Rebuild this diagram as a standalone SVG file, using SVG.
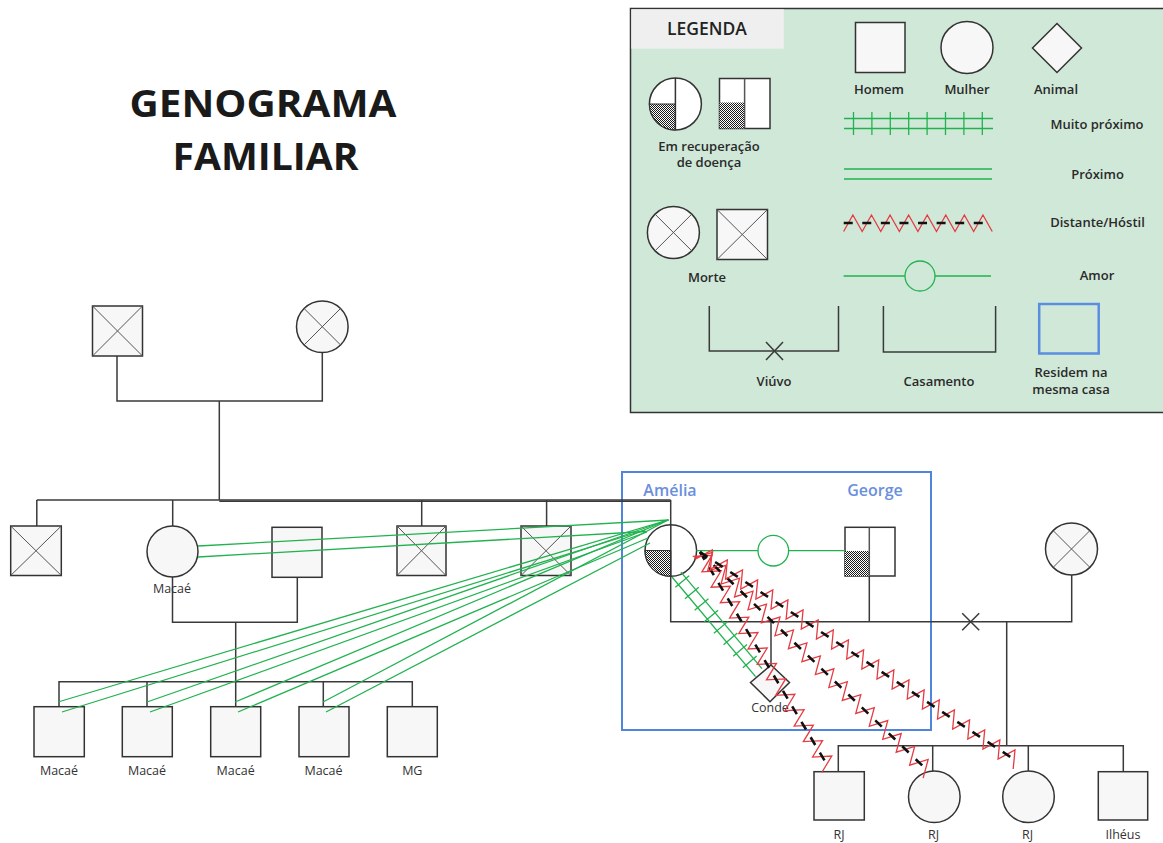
<svg xmlns="http://www.w3.org/2000/svg" width="1163" height="843" viewBox="0 0 1163 843">
  <style>
    .node { fill: #f7f7f7; stroke: #333; stroke-width: 1.5; }
    .cross { stroke: #555; stroke-width: 1; fill: none; }
    .link { stroke: #3a3a3a; stroke-width: 1.5; fill: none; }
    .green { stroke: #21b24f; stroke-width: 1.3; fill: none; }
    .zig { stroke: #e43c42; stroke-width: 1.3; fill: none; stroke-linejoin: miter; }
    .dash { stroke: #111; stroke-width: 2.6; fill: none; }
    .lbl { font-family: "Open Sans", "Liberation Sans", sans-serif; font-size: 12.5px; fill: #333; text-anchor: middle; }
    .leg { font-family: "Open Sans", "Liberation Sans", sans-serif; font-size: 13px; font-weight: 600; fill: #2a2a2a; text-anchor: middle; }
    .name { font-family: "Open Sans", "Liberation Sans", sans-serif; font-size: 16px; font-weight: 600; fill: #6a8fdc; text-anchor: middle; }
    .title { font-family: "Open Sans", "Liberation Sans", sans-serif; font-size: 38px; font-weight: 700; fill: #1a1a1a; text-anchor: middle; }
  </style>
  <defs>
    <pattern id="dots" width="2" height="2" patternUnits="userSpaceOnUse">
      <rect width="2" height="2" fill="#fff"/>
      <rect width="1" height="1" fill="#1a1a1a"/>
      <rect x="1" y="1" width="1" height="1" fill="#1a1a1a"/>
    </pattern>
  </defs>

  <rect width="1163" height="843" fill="#fff"/>

  <!-- title -->
  <g id="title">
    <text class="title" x="263" y="117" textLength="267" lengthAdjust="spacingAndGlyphs">GENOGRAMA</text>
    <text class="title" x="265.5" y="170" textLength="186" lengthAdjust="spacingAndGlyphs">FAMILIAR</text>
  </g>

  <!-- legend panel -->
  <g id="legend">
    <rect x="630.5" y="8.5" width="540" height="404" fill="#d0e8d8" stroke="#333" stroke-width="1.5"/>
    <rect x="631.3" y="9.3" width="152.5" height="39.4" fill="#efefef"/>
    <text x="707" y="35" style="font-family:'Open Sans','Liberation Sans',sans-serif;font-size:17.5px;font-weight:600;fill:#222;text-anchor:middle">LEGENDA</text>

    <rect class="node" x="855.5" y="22.5" width="49.5" height="50"/>
    <text class="leg" x="879" y="94">Homem</text>
    <circle class="node" cx="967" cy="47.5" r="26"/>
    <text class="leg" x="967" y="94">Mulher</text>
    <polygon class="node" points="1057,23.5 1081.5,48 1057,72.5 1032.5,48"/>
    <text class="leg" x="1056" y="94">Animal</text>

    <circle cx="675.4" cy="104" r="26" fill="#fff" stroke="#333" stroke-width="1.5"/>
    <path d="M675.4,104 L649.4,104 A26,26 0 0 0 675.4,130 Z" fill="url(#dots)" stroke="#333" stroke-width="1"/>
    <line x1="675.4" y1="78" x2="675.4" y2="130" stroke="#333" stroke-width="1.5"/>
    <rect x="719.5" y="78.5" width="50.5" height="50" fill="#fff" stroke="#333" stroke-width="1.5"/>
    <rect x="719.5" y="102.5" width="25" height="26" fill="url(#dots)"/>
    <line x1="744.6" y1="78.5" x2="744.6" y2="128.5" stroke="#555" stroke-width="1.5"/>
    <text class="leg" x="709" y="150.5">Em recuperação</text>
    <text class="leg" x="709" y="166.5">de doença</text>

    <g class="green" stroke-width="1.5">
      <line x1="844" y1="118.5" x2="993" y2="118.5"/>
      <line x1="844" y1="128.5" x2="993" y2="128.5"/>
      <path d="M853.5,112V135M871.9,112V135M890.3,112V135M908.7,112V135M927.1,112V135M945.5,112V135M963.9,112V135M982.3,112V135"/>
      <line x1="844" y1="169" x2="992" y2="169"/>
      <line x1="844" y1="179" x2="992" y2="179"/>
    </g>
    <text class="leg" x="1097" y="129">Muito próximo</text>
    <text class="leg" x="1097.5" y="179">Próximo</text>

    <circle class="node" cx="673.4" cy="232.5" r="26"/>
    <path class="cross" d="M655,214.1L691.8,250.9M691.8,214.1L655,250.9"/>
    <rect class="node" x="717" y="209.5" width="50.5" height="50"/>
    <path class="cross" d="M717,209.5L767.5,259.5M767.5,209.5L717,259.5"/>
    <text class="leg" x="707" y="281.5">Morte</text>

    <path class="zig" d="M843.6,231.5 l9.29,-16.5 l9.29,16.5 l9.29,-16.5 l9.29,16.5 l9.29,-16.5 l9.29,16.5 l9.29,-16.5 l9.29,16.5 l9.29,-16.5 l9.29,16.5 l9.29,-16.5 l9.29,16.5 l9.29,-16.5 l9.29,16.5 l9.29,-16.5 l9.29,16.5"/>
    <line class="dash" x1="843.7" y1="223" x2="990" y2="223" stroke-dasharray="9 9.58" stroke-width="2.2"/>
    <text class="leg" x="1097.5" y="227">Distante/Hóstil</text>

    <g class="green" stroke-width="1.5">
      <line x1="843.6" y1="276" x2="905" y2="276"/>
      <line x1="935" y1="276" x2="991" y2="276"/>
      <circle cx="920" cy="276" r="15"/>
    </g>
    <text class="leg" x="1097" y="280">Amor</text>

    <path class="link" d="M709.3,306V351H838.5V306"/>
    <path class="link" stroke-width="1" d="M766,342L783,360M783,342L766,360"/>
    <text class="leg" x="774" y="386">Viúvo</text>
    <path class="link" d="M883.4,306V352H995.6V306"/>
    <text class="leg" x="939" y="386">Casamento</text>
    <rect x="1039.2" y="304" width="59.5" height="49.5" fill="none" stroke="#5b8ee0" stroke-width="2.5"/>
    <text class="leg" x="1071" y="377">Residem na</text>
    <text class="leg" x="1071" y="394">mesma casa</text>
  </g>

  <!-- household frame -->
  <rect id="household" x="622" y="472" width="309" height="258" fill="none" stroke="#4f85dc" stroke-width="2"/>

  <!-- family connectors -->
  <g id="connectors">
    <path class="link" d="M117,356V401H322.3V352.5"/>
    <path class="link" d="M219.3,401V500"/>
    <path class="link" d="M36.8,500H670.7"/>
    <path class="link" stroke-width="1.2" d="M219.3,501.2H670.7"/>
    <path class="link" d="M36.8,500V526M172.7,500V526M421.7,500V526M546.6,500V526M670.7,500V525"/>
    <path class="link" d="M172.5,577V622.3H297.3V577.3"/>
    <path class="link" d="M235.7,622.3V681.7"/>
    <path class="link" d="M59,706.7V681.7H412.3V706.7M147,681.7V706.7M235.7,681.7V706.7M323.3,681.7V706.7"/>
    <path class="link" d="M670.7,576V621.7H1071.7V575"/>
    <path class="link" d="M869.3,576V621.7"/>
    <path class="link" d="M771,621.7V665"/>
    <path class="link" stroke-width="1" d="M962.2,613.2L979.2,630.2M979.2,613.2L962.2,630.2"/>
    <path class="link" d="M1006.7,621.7V745.7"/>
    <path class="link" d="M838.3,771.7V745.7H1123.3V771.7M932.7,745.7V771.7M1028.3,745.7V771.7"/>
  </g>

  <!-- people -->
  <g id="grandfather">
    <rect class="node" x="92.5" y="306" width="50" height="50"/>
    <path class="cross" d="M92.5,306L142.5,356M142.5,306L92.5,356"/>
  </g>
  <g id="grandmother">
    <circle class="node" cx="322.3" cy="326.7" r="25.8"/>
    <path class="cross" d="M304,308.4L340.6,345M340.6,308.4L304,345"/>
  </g>
  <g id="sibling1">
    <rect class="node" x="10.7" y="526" width="50.6" height="49.5"/>
    <path class="cross" d="M10.7,526L61.3,575.5M61.3,526L10.7,575.5"/>
  </g>
  <g id="sibling2">
    <circle class="node" cx="172.5" cy="551.5" r="25.5"/>
    <text class="lbl" x="172" y="593">Macaé</text>
  </g>
  <g id="sibling2-spouse">
    <rect class="node" x="272" y="527.3" width="50" height="50"/>
  </g>
  <g id="sibling3">
    <rect class="node" x="397" y="526" width="49" height="49.5"/>
    <path class="cross" d="M397,526L446,575.5M446,526L397,575.5"/>
  </g>
  <g id="sibling4">
    <rect class="node" x="521" y="526" width="50" height="49.5"/>
    <path class="cross" d="M521,526L571,575.5M571,526L521,575.5"/>
  </g>

  <g id="nephew1">
    <rect class="node" x="34" y="706.7" width="50.3" height="50"/>
    <text class="lbl" x="59" y="775">Macaé</text>
  </g>
  <g id="nephew2">
    <rect class="node" x="122.3" y="706.7" width="50" height="50"/>
    <text class="lbl" x="147" y="775">Macaé</text>
  </g>
  <g id="nephew3">
    <rect class="node" x="210.7" y="706.7" width="50" height="50"/>
    <text class="lbl" x="235.7" y="775">Macaé</text>
  </g>
  <g id="nephew4">
    <rect class="node" x="299" y="706.7" width="50" height="50"/>
    <text class="lbl" x="323.5" y="775">Macaé</text>
  </g>
  <g id="nephew5">
    <rect class="node" x="387.3" y="706.7" width="50" height="50"/>
    <text class="lbl" x="412.3" y="775">MG</text>
  </g>

  <g id="amelia">
    <circle cx="670.8" cy="550.5" r="25.8" fill="#fff" stroke="#333" stroke-width="1.5"/>
    <path d="M670.8,550.5 L645,550.5 A25.8,25.8 0 0 0 670.8,576.3 Z" fill="url(#dots)" stroke="#333" stroke-width="1"/>
    <line x1="670.8" y1="524.7" x2="670.8" y2="576.3" stroke="#333" stroke-width="1.5"/>
    <text class="name" x="670" y="496">Amélia</text>
  </g>
  <g id="george">
    <rect x="845" y="527.3" width="50" height="48.7" fill="#fff" stroke="#333" stroke-width="1.5"/>
    <rect x="845" y="551" width="24.3" height="25" fill="url(#dots)"/>
    <line x1="869.3" y1="527.3" x2="869.3" y2="576" stroke="#555" stroke-width="1.5"/>
    <text class="name" x="875" y="496">George</text>
  </g>
  <g id="ex-wife">
    <circle class="node" cx="1071.5" cy="549" r="26"/>
    <path class="cross" d="M1053.1,530.6L1089.9,567.4M1089.9,530.6L1053.1,567.4"/>
  </g>
  <g id="conde">
    <polygon class="node" points="771,665 789.5,682.5 770,701.7 750.5,682.5"/>
    <text class="lbl" x="770" y="712">Conde</text>
  </g>

  <g id="child1">
    <rect class="node" x="814" y="771.7" width="50.3" height="48.3"/>
    <text class="lbl" x="839" y="839">RJ</text>
  </g>
  <g id="child2">
    <circle class="node" cx="934.3" cy="796.7" r="25.8"/>
    <text class="lbl" x="933.5" y="839">RJ</text>
  </g>
  <g id="child3">
    <circle class="node" cx="1028.5" cy="796.7" r="25.8"/>
    <text class="lbl" x="1027.5" y="839">RJ</text>
  </g>
  <g id="child4">
    <rect class="node" x="1098.3" y="771.7" width="49.4" height="48.3"/>
    <text class="lbl" x="1123" y="839">Ilhéus</text>
  </g>

  <!-- emotional relationships -->
  <g id="relations">
    <!-- close: Amélia to sister and nephews -->
    <g class="green">
      <line x1="669" y1="520" x2="198" y2="546"/>
      <line x1="646" y1="531.5" x2="198" y2="557"/>
      <line x1="668" y1="520" x2="58" y2="702"/>
      <line x1="645" y1="530" x2="62" y2="712"/>
      <line x1="668" y1="520" x2="147" y2="702"/>
      <line x1="647" y1="532" x2="150" y2="712"/>
      <line x1="668" y1="520" x2="235" y2="702"/>
      <line x1="648" y1="538" x2="238" y2="712"/>
      <line x1="668" y1="520" x2="323" y2="702"/>
      <line x1="650" y1="543" x2="326" y2="712"/>
    </g>

    <!-- love: Amélia and George -->
    <g class="green">
      <line x1="696.5" y1="550.7" x2="758" y2="550.7"/>
      <line x1="788.6" y1="550.7" x2="845" y2="550.7"/>
      <circle cx="773.3" cy="550.7" r="15.3" fill="#fff"/>
    </g>

    <!-- very close: Amélia and Conde -->
    <g class="green" transform="translate(672,577) rotate(50)">
      <line x1="0" y1="0" x2="130" y2="0"/>
      <line x1="2" y1="-10" x2="128" y2="-10"/>
      <path d="M10,-14V4M25,-14V4M40,-14V4M55,-14V4M70,-14V4M85,-14V4M100,-14V4M115,-14V4"/>
    </g>

    <!-- distant / hostile: Amélia and George's children -->
    <g transform="translate(700,552) rotate(59.15)">
      <path class="zig" d="M0,8.5 l8.99,-17 l8.99,17 l8.99,-17 l8.99,17 l8.99,-17 l8.99,17 l8.99,-17 l8.99,17 l8.99,-17 l8.99,17 l8.99,-17 l8.99,17 l8.99,-17 l8.99,17 l8.99,-17 l8.99,17 l8.99,-17 l8.99,17 l8.99,-17 l8.99,17 l8.99,-17 l8.99,17 l8.99,-17 l8.99,17 l8.99,-17 l8.99,17 l8.99,-17 l8.99,17"/>
      <line class="dash" x1="0" y1="0" x2="251.6" y2="0" stroke-dasharray="9 8.98"/>
    </g>
    <g transform="translate(700,552) rotate(43.85)">
      <path class="zig" d="M0,8.5 l9.34,-17 l9.34,17 l9.34,-17 l9.34,17 l9.34,-17 l9.34,17 l9.34,-17 l9.34,17 l9.34,-17 l9.34,17 l9.34,-17 l9.34,17 l9.34,-17 l9.34,17 l9.34,-17 l9.34,17 l9.34,-17 l9.34,17 l9.34,-17 l9.34,17 l9.34,-17 l9.34,17 l9.34,-17 l9.34,17 l9.34,-17 l9.34,17 l9.34,-17 l9.34,17 l9.34,-17 l9.34,17 l9.34,-17 l9.34,17 l9.34,-17 l9.34,17"/>
      <line class="dash" x1="0.2" y1="0" x2="317.6" y2="0" stroke-dasharray="9 9.68"/>
    </g>
    <g transform="translate(700,552) rotate(33.44)">
      <path class="zig" d="M0,8.5 l9.07,-17 l9.07,17 l9.07,-17 l9.07,17 l9.07,-17 l9.07,17 l9.07,-17 l9.07,17 l9.07,-17 l9.07,17 l9.07,-17 l9.07,17 l9.07,-17 l9.07,17 l9.07,-17 l9.07,17 l9.07,-17 l9.07,17 l9.07,-17 l9.07,17 l9.07,-17 l9.07,17 l9.07,-17 l9.07,17 l9.07,-17 l9.07,17 l9.07,-17 l9.07,17 l9.07,-17 l9.07,17 l9.07,-17 l9.07,17 l9.07,-17 l9.07,17 l9.07,-17 l9.07,17 l9.07,-17 l9.07,17 l9.07,-17 l9.07,17 l9.07,-17 l9.07,17"/>
      <line class="dash" x1="0" y1="0" x2="381" y2="0" stroke-dasharray="9 9.14"/>
    </g>
  </g>
</svg>
